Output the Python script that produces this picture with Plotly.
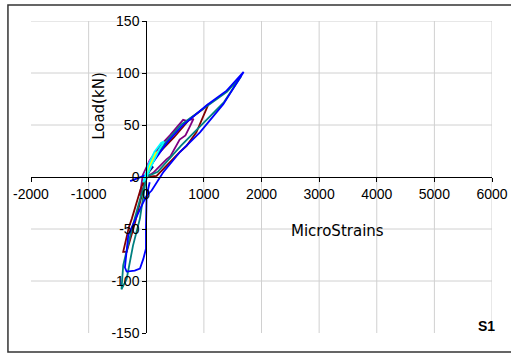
import plotly.graph_objects as go

# ---------------- data (microstrain, load kN) ----------------
navy_x = [0, 50, 120, 60, 0]
navy_y = [0, 5, 10, 8, 0]

magenta_x = [0, 30, 60, 75, 40, 10, -20, 0]
magenta_y = [0, 8, 14, 17, 13, 6, -3, 0]

yellow_x = [0, 80, 150, 190, 140, 60, 0]
yellow_y = [0, 12, 19, 24, 22, 12, 0]

cyan_x = [0, 100, 170, 230, 310, 260, 140, 40, -50, 0]
cyan_y = [0, 12, 20, 27, 34, 33, 24, 12, -5, 0]

purple_x = [0, 120, 350, 420, 580, 680, 760, 820, 700, 640, 410, 240, 60, -60, -110, -30, 0]
purple_y = [0, 4, 17, 20, 36, 40, 49, 56, 54, 55, 40, 30, 16, 2, -18, -8, 0]

maroon_x = [0, 180, 580, 700, 870, 1080, 1000, 760, 480, 200, 50, -100, -250, -300, -400, -340, -200, -50, 0]
maroon_y = [0, 1, 24, 30, 43, 70, 66, 56, 38, 22, 8, -12, -40, -48, -72, -72, -45, -10, 0]

teal_x = [0, 200, 600, 1000, 1350, 1650, 1400, 1050, 600, 330, 90, -100, -250, -400, -430, -340, -230, -110, 0]
teal_y = [0, 5, 30, 52, 72, 97, 82, 68, 50, 33, 13, -20, -50, -85, -108, -98, -66, -40, 0]

blue_x = [-280, 0, 90, 360, 620, 1049, 1395, 1690, 1337, 932, 585, 300, 94, 6, -100, -250, -312,
          -370, -340, -200, -109, -52, -5, -5, -5, 5, 35, 60]
blue_y = [-4, 2, 12, 33, 49, 69, 83, 101, 70, 43, 24, 5, -13, -18, -30, -48, -56,
          -87, -91, -90, -88, -79, -69, -50, -34, -21, -11, -5]

series = [
    ("S1-1", navy_x, navy_y, "#000080"),
    ("S1-5", purple_x, purple_y, "#800080"),
    ("S1-6", maroon_x, maroon_y, "#800000"),
    ("S1-7", teal_x, teal_y, "#008080"),
    ("S1-8", blue_x, blue_y, "#0000FF"),
    ("S1-2", magenta_x, magenta_y, "#FF00FF"),
    ("S1-3", yellow_x, yellow_y, "#FFFF00"),
    ("S1-4", cyan_x, cyan_y, "#00FFFF"),
]

x_ticks = [-2000, -1000, 0, 1000, 2000, 3000, 4000, 5000, 6000]
y_ticks = [-150, -100, -50, 0, 50, 100, 150]
x_grid = [-1000, 1000, 2000, 3000, 4000, 5000, 6000]
y_grid = [-100, -50, 50, 100, 150]

x_title = "MicroStrains"
y_title = "Load(kN)"
tag = "S1"

# ---------------- figure ----------------
fig = go.Figure()
for name, xs, ys, col in series:
    fig.add_trace(go.Scatter(x=xs, y=ys, mode="lines", name=name,
                             line=dict(color=col, width=1.8), showlegend=False))

shapes = []
for gx in x_grid:
    shapes.append(dict(type="line", xref="x", yref="y", x0=gx, x1=gx, y0=-150, y1=150,
                       line=dict(color="#d0d0d0", width=1), layer="below"))
for gy in y_grid:
    shapes.append(dict(type="line", xref="x", yref="y", x0=-2000, x1=6000, y0=gy, y1=gy,
                       line=dict(color="#d0d0d0", width=1), layer="below"))
# outer chart border
shapes.append(dict(type="rect", xref="paper", yref="paper", x0=-0.05, x1=1.07, y0=-0.061, y1=1.051,
                   line=dict(color="#333333", width=1.5)))

font = "Liberation Sans, Arial, sans-serif"
title_font = "DejaVu Sans, Verdana, sans-serif"
fig.update_layout(
    width=511, height=354,
    margin=dict(l=31, r=19, t=21, b=21),
    paper_bgcolor="white", plot_bgcolor="white",
    font=dict(family=font, size=14, color="black"),
    shapes=shapes,
    xaxis=dict(range=[-2000, 6000], tickvals=x_ticks, ticktext=[str(v) for v in x_ticks],
               showgrid=False, zeroline=False, showline=True, linecolor="black", linewidth=1,
               ticks="outside", ticklen=4, tickcolor="black", anchor="free", position=0.5,
               tickfont=dict(size=14), automargin=False),
    yaxis=dict(range=[-150, 150], tickvals=y_ticks, ticktext=[str(v) for v in y_ticks],
               showgrid=False, zeroline=False, showline=True, linecolor="black", linewidth=1,
               ticks="outside", ticklen=4, tickcolor="black", anchor="free", position=0.25,
               tickfont=dict(size=14), automargin=False),
    annotations=[
        dict(text=y_title, xref="paper", yref="paper", x=0.1475, y=0.728, textangle=-90,
             showarrow=False, font=dict(size=15, family=title_font), xanchor="center", yanchor="middle"),
        dict(text=x_title, xref="paper", yref="paper", x=0.665, y=0.327,
             showarrow=False, font=dict(size=15, family=title_font), xanchor="center", yanchor="middle"),
        dict(text="<b>" + tag + "</b>", xref="paper", yref="paper", x=0.989, y=0.022,
             showarrow=False, font=dict(size=14), xanchor="center", yanchor="middle"),
    ],
)

fig.write_html("out.html")
